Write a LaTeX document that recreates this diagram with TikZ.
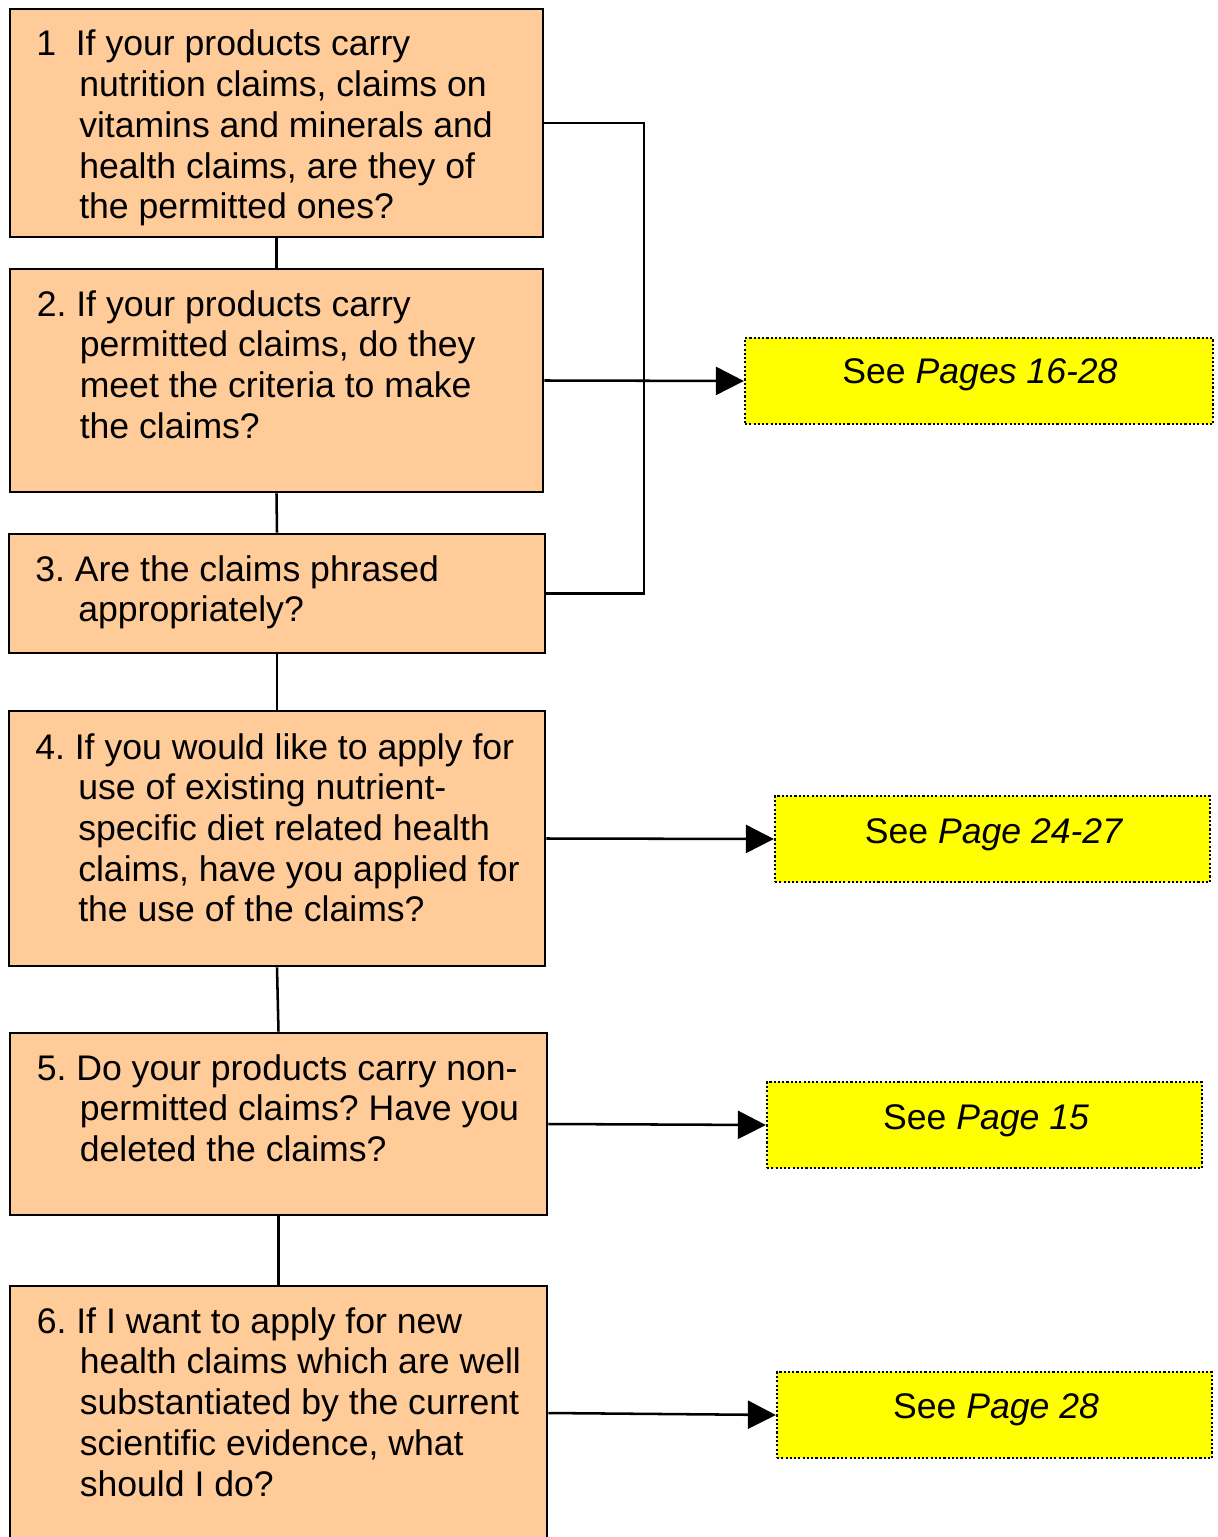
\documentclass[tikz,border=0pt]{standalone}
\usepackage{fontspec}
\setmainfont{Liberation Sans}
\usetikzlibrary{arrows.meta,fit}
\definecolor{qorange}{HTML}{FFCC99}
\definecolor{qyellow}{HTML}{FFFF00}
\tikzset{
 qbox/.style={draw=black, line width=2pt, fill=qorange, inner sep=0pt},
 ybox/.style={draw=black, line width=1.7pt, dash pattern=on 1.6pt off 1.6pt, fill=qyellow, inner sep=0pt},
 qtext/.style={anchor=base west, inner sep=0pt, font=\fontsize{26.7pt}{30.56pt}\selectfont\frenchspacing},
 ytext/.style={anchor=base, inner sep=0pt, font=\fontsize{26.7pt}{30.56pt}\selectfont\frenchspacing},
 conn/.style={draw=black, line width=1.9pt},
 arr/.style={conn, -{Triangle[length=21pt,width=21pt]}},
}
\newcommand{\ind}{\hspace*{32.25pt}}
\begin{document}
\begin{tikzpicture}[x=0.75pt,y=-0.75pt]
\clip (0,0) rectangle (1217,1537);
\fill[white] (0,0) rectangle (1217,1537);
% question boxes
\node[qbox, fit={(10,9) (543,237)}] (b1) {};
\node[qbox, fit={(10,269) (543,492)}] (b2) {};
\node[qbox, fit={(9,534) (545,653)}] (b3) {};
\node[qbox, fit={(9,711) (545,966)}] (b4) {};
\node[qbox, fit={(10,1033) (547,1215)}] (b5) {};
\node[qbox, fit={(10,1286) (547,1540)}] (b6) {};
% reference boxes
\node[ybox, fit={(745,338) (1213,424)}] (y1) {};
\node[ybox, fit={(775,796) (1210,882)}] (y2) {};
\node[ybox, fit={(767,1082) (1202,1168)}] (y3) {};
\node[ybox, fit={(777,1372) (1212,1458)}] (y4) {};
% texts
\node[qtext] (t1) at (36,56) {\begin{tabular}[t]{@{}l@{}}1\ \ If your products carry\\\ind nutrition claims, claims on\\\ind vitamins and minerals and\\\ind health claims, are they of\\\ind the permitted ones?\end{tabular}};
\node[qtext] (t2) at (36.5,316) {\begin{tabular}[t]{@{}l@{}}2. If your products carry\\\ind permitted claims, do they\\\ind meet the criteria to make\\\ind the claims?\end{tabular}};
\node[qtext] (t3) at (35,581) {\begin{tabular}[t]{@{}l@{}}3. Are the claims phrased\\\ind appropriately?\end{tabular}};
\node[qtext] (t4) at (35,759) {\begin{tabular}[t]{@{}l@{}}4. If you would like to apply for\\\ind use of existing nutrient-\\\ind specific diet related health\\\ind claims, have you applied for\\\ind the use of the claims?\end{tabular}};
\node[qtext] (t5) at (36.5,1080) {\begin{tabular}[t]{@{}l@{}}5. Do your products carry non-\\\ind permitted claims? Have you\\\ind deleted the claims?\end{tabular}};
\node[qtext] (t6) at (36.5,1333) {\begin{tabular}[t]{@{}l@{}}6. If I want to apply for new\\\ind health claims which are well\\\ind substantiated by the current\\\ind scientific evidence, what\\\ind should I do?\end{tabular}};
\node[ytext] (l1) at (980,383) {See \textit{Pages 16-28}};
\node[ytext] (l2) at (994,843) {See \textit{Page 24-27}};
\node[ytext] (l3) at (986,1129) {See \textit{Page 15}};
\node[ytext] (l4) at (996,1418) {See \textit{Page 28}};
% vertical connectors
\draw[conn] (b1.south) -- (b2.north);
\draw[conn] (b2.south) -- (b3.north);
\draw[conn] (b3.south) -- (b4.north);
\draw[conn] (b4.south) -- (b5.north);
\draw[conn] (b5.south) -- (b6.north);
% merge to first reference
\coordinate (jn) at (644,381);
\draw[conn] (b1.east) -| (jn);
\draw[conn] (b3.east) -| (jn);
\draw[arr] (b2.east) -- (y1.west);
\draw[arr] (b4.east) -- (y2.west);
\draw[arr] (b5.east) -- (y3.west);
\draw[arr] (b6.east) -- (y4.west);
\end{tikzpicture}
\end{document}
